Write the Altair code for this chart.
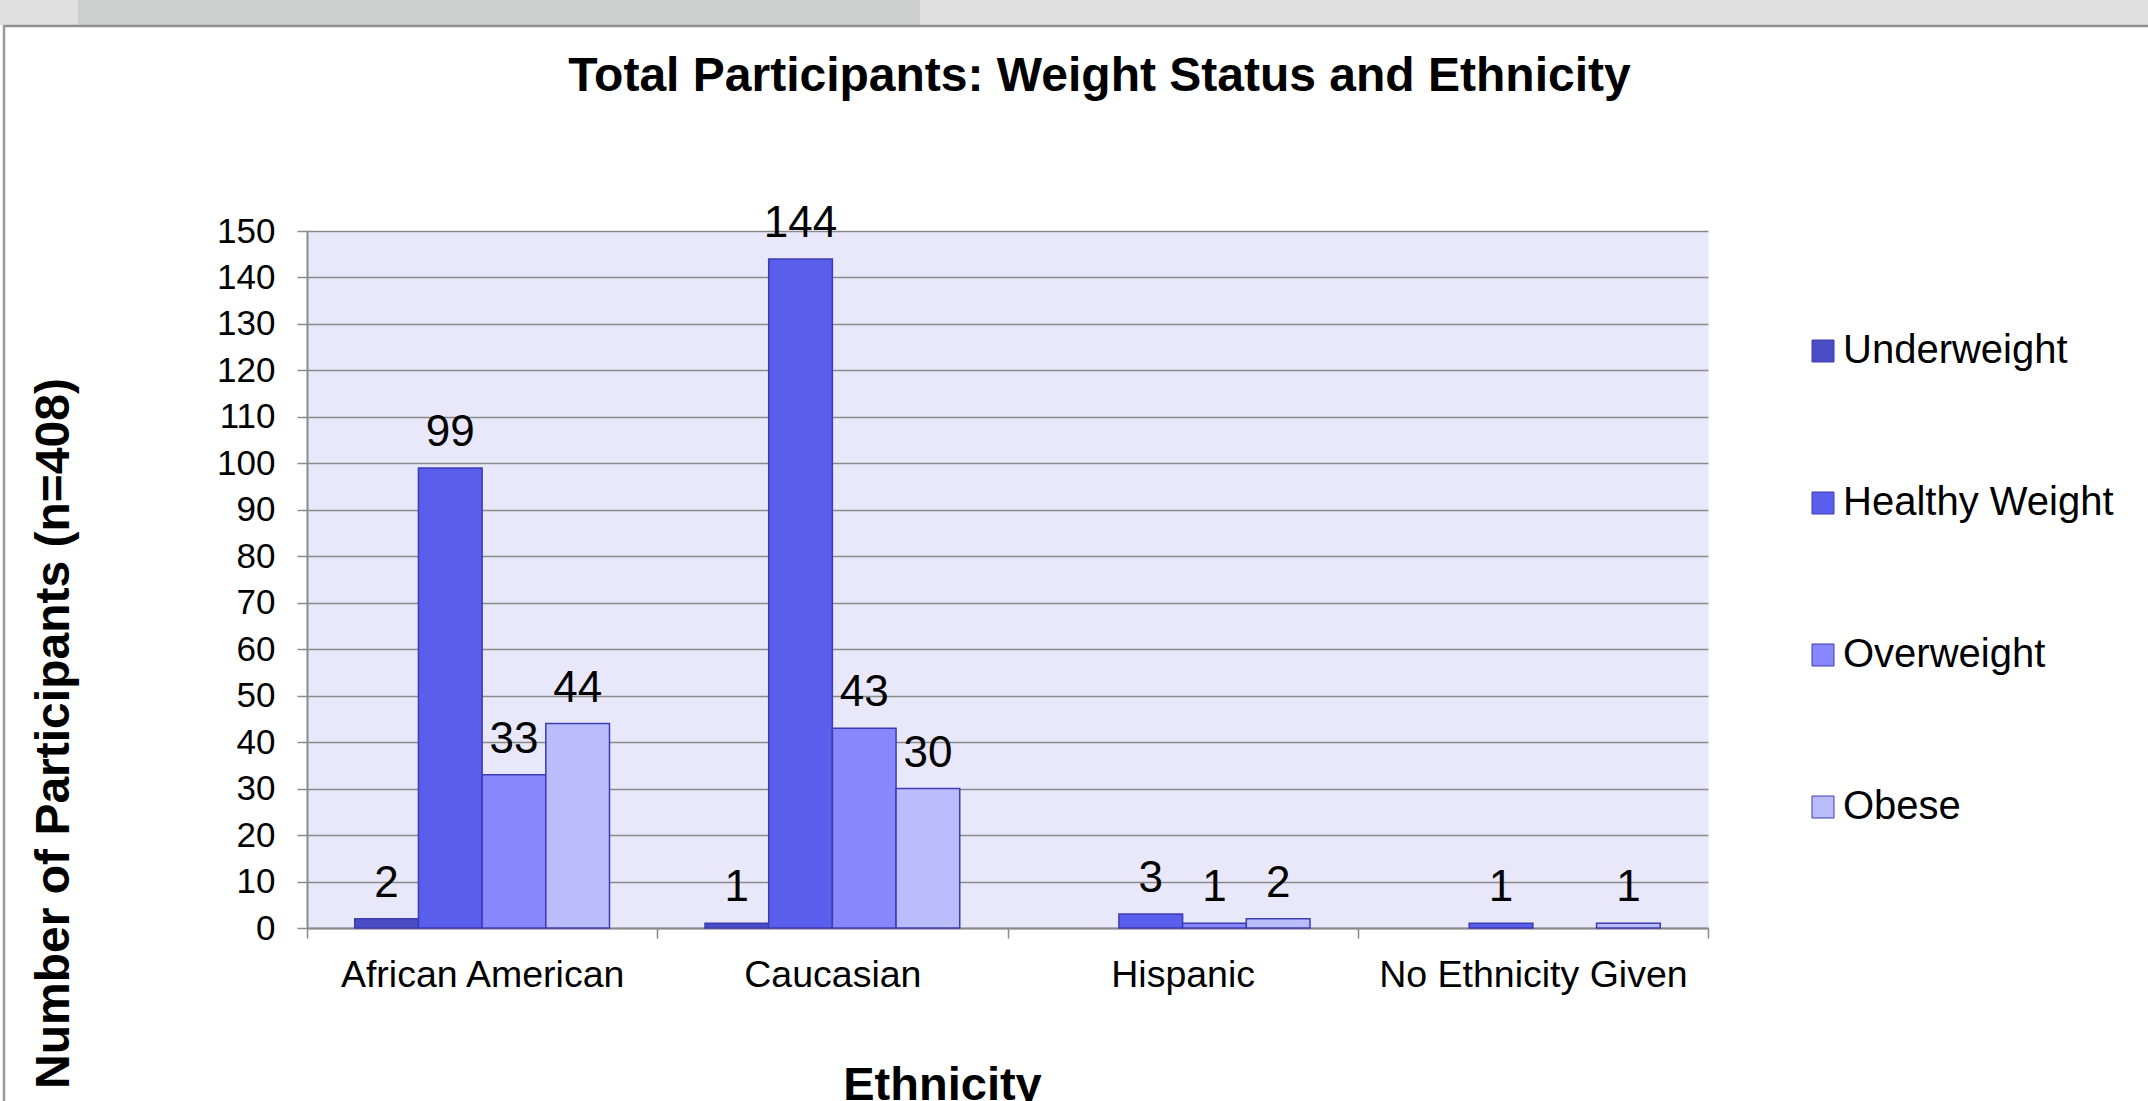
import altair as alt
import pandas as pd

# Participants by ethnicity and weight status
ethnicities = ["African American", "Caucasian", "Hispanic", "No Ethnicity Given"]
statuses = ["Underweight", "Healthy Weight", "Overweight", "Obese"]
underweight = [2, 1, 0, 0]
healthy_weight = [99, 144, 3, 1]
overweight = [33, 43, 1, 0]
obese = [44, 30, 2, 1]

status_colors = ["#4a4cc4", "#5a5eec", "#8888fc", "#babcfc"]
y_ticks = list(range(0, 151, 10))

FONT = "Liberation Sans"

rows = []
for status, series in zip(statuses, [underweight, healthy_weight, overweight, obese]):
    for eth, n in zip(ethnicities, series):
        if n > 0:
            rows.append({"Ethnicity": eth, "Status": status, "Count": n})
df = pd.DataFrame(rows)

W, H = 1401, 697
LEFT, TOP = 307, 231
CANVAS_W, CANVAS_H = 2148, 1101

x_enc = alt.X(
    "Ethnicity:N",
    sort=ethnicities,
    scale=alt.Scale(domain=ethnicities, paddingInner=0, paddingOuter=0),
    axis=alt.Axis(
        title="Ethnicity",
        titleFont=FONT,
        titleFontSize=47,
        titleFontWeight="bold",
        titleColor="black",
        titleX=635,
        titleY=171,
        titleBaseline="alphabetic",
        titleAlign="center",
        labelFont=FONT,
        labelFontSize=37.5,
        labelColor="black",
        labelAngle=0,
        labelPadding=18,
        labelLimit=0,
        tickBand="extent",
        tickSize=10,
        tickColor="#8a8a8a",
        tickWidth=1.5,
        domainColor="#8a8a8a",
        domainWidth=2,
        grid=False,
    ),
)
xoff_enc = alt.XOffset(
    "Status:N",
    sort=statuses,
    scale=alt.Scale(domain=statuses, paddingInner=0, paddingOuter=0.75),
)
y_enc = alt.Y(
    "Count:Q",
    scale=alt.Scale(domain=[0, 150], nice=False),
    axis=alt.Axis(
        values=y_ticks,
        title="Number of Participants (n=408)",
        titleFont=FONT,
        titleFontSize=48,
        titleFontWeight="bold",
        titleColor="black",
        titleAngle=270,
        titleX=-239,
        titleY=502,
        titleBaseline="alphabetic",
        titleAlign="center",
        labelFont=FONT,
        labelFontSize=35,
        labelColor="black",
        labelPadding=22,
        tickSize=10,
        tickColor="#8a8a8a",
        tickWidth=1.5,
        domainColor="#8a8a8a",
        domainWidth=2,
        grid=True,
        gridColor="#8a8a8a",
        gridWidth=1.5,
    ),
)

bars = alt.Chart(df).mark_bar(stroke="#3c3cb4", strokeWidth=1.5).encode(
    x=x_enc,
    xOffset=xoff_enc,
    y=y_enc,
    color=alt.Color(
        "Status:N",
        sort=statuses,
        scale=alt.Scale(domain=statuses, range=status_colors),
        legend=alt.Legend(
            title=None,
            orient="none",
            legendX=1496,
            legendY=100,
            padding=0,
            symbolType="square",
            symbolSize=484,
            symbolStrokeColor="#3c3cb4",
            symbolStrokeWidth=1,
            labelFont=FONT,
            labelFontSize=40,
            labelColor="black",
            labelOffset=0,
            labelLimit=0,
            rowPadding=112,
        ),
    ),
)

labels = alt.Chart(df).mark_text(
    font=FONT, fontSize=44, color="black", baseline="alphabetic", dy=-22
).encode(
    x=alt.X("Ethnicity:N", sort=ethnicities),
    xOffset=alt.XOffset("Status:N", sort=statuses),
    y=alt.Y("Count:Q"),
    text=alt.Text("Count:Q"),
)

# window chrome above the chart panel
chrome = pd.DataFrame({"k": [0]})
strip = alt.Chart(chrome).mark_rect(color="#e0e0e0").encode(
    x=alt.value(-LEFT), x2=alt.value(CANVAS_W - LEFT),
    y=alt.value(-TOP), y2=alt.value(-TOP + 25),
)
tab = alt.Chart(chrome).mark_rect(color="#cdcfcf").encode(
    x=alt.value(78 - LEFT), x2=alt.value(920 - LEFT),
    y=alt.value(-TOP), y2=alt.value(-TOP + 25),
)
top_edge = alt.Chart(chrome).mark_rule(color="#8e8e8e", strokeWidth=2.5).encode(
    x=alt.value(3 - LEFT), x2=alt.value(CANVAS_W - LEFT),
    y=alt.value(-TOP + 26),
)
left_edge = alt.Chart(chrome).mark_rule(color="#9a9a9a", strokeWidth=2.5).encode(
    x=alt.value(4 - LEFT),
    y=alt.value(-TOP + 25), y2=alt.value(CANVAS_H - TOP),
)

chart = alt.layer(strip, tab, top_edge, left_edge, bars, labels).properties(
    width=W,
    height=H,
    padding={"left": LEFT, "top": TOP, "right": CANVAS_W - LEFT - W, "bottom": CANVAS_H - TOP - H},
    autosize=alt.AutoSizeParams(type="none"),
    background="white",
    title=alt.TitleParams(
        "Total Participants: Weight Status and Ethnicity",
        font=FONT,
        fontSize=48,
        fontWeight="bold",
        color="black",
        anchor="middle",
        frame="group",
        dx=92,
        baseline="alphabetic",
        offset=-139,
    ),
).configure_view(fill="#e8e8fa", stroke="transparent")

chart.save("out.html", embed_options={"renderer": "svg", "actions": False})
